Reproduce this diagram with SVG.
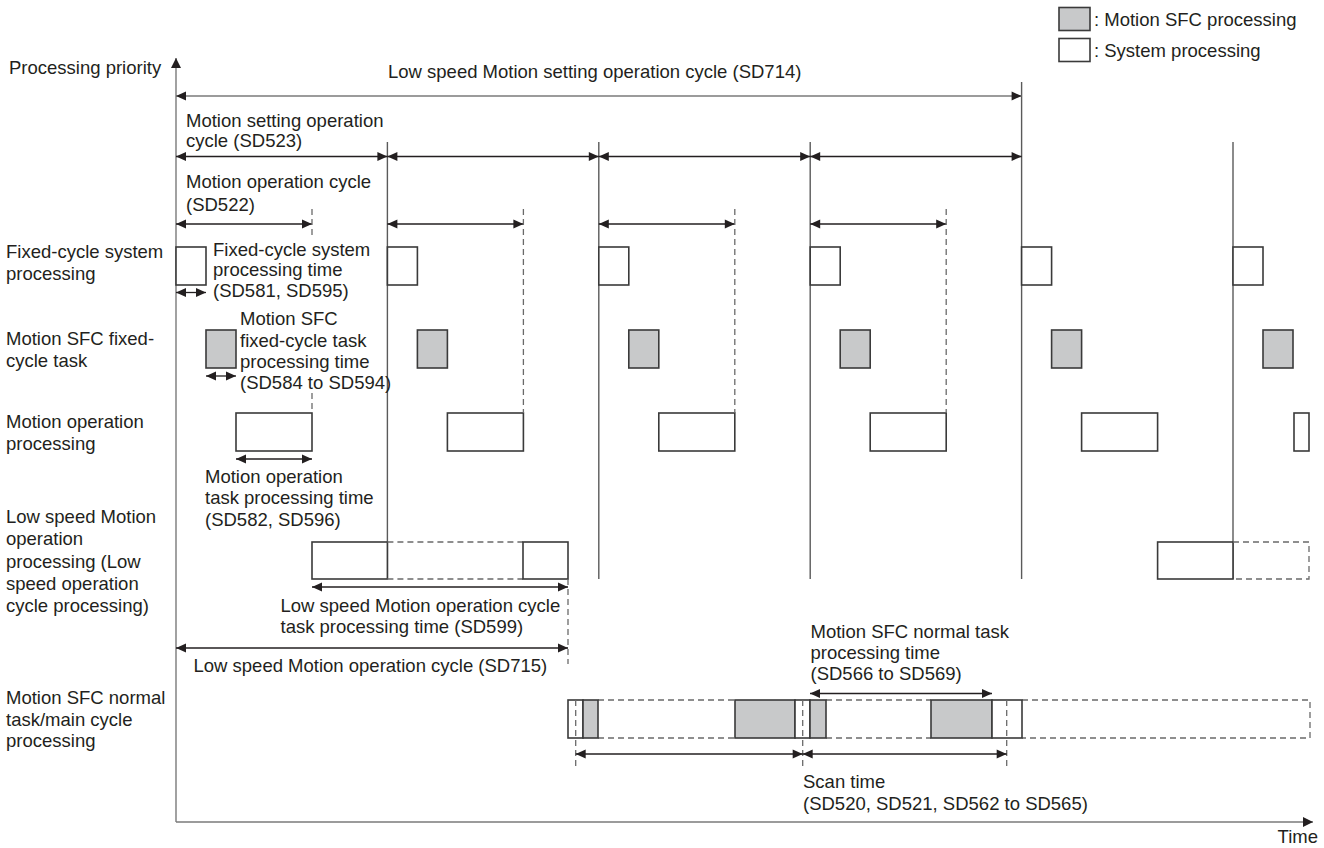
<svg xmlns="http://www.w3.org/2000/svg" width="1324" height="848" viewBox="0 0 1324 848">
<style>
text{font-family:"Liberation Sans",Arial,sans-serif;font-size:18.5px;fill:#231f20}
.vl{stroke:#7a7a7a;stroke-width:1.4;fill:none}
.cl{stroke:#5a5a5a;stroke-width:1.4;fill:none}
.ar{stroke:#231f20;stroke-width:1.3;fill:none;marker-start:url(#ah);marker-end:url(#ah)}
.arg{stroke:#7a7a7a;stroke-width:1.4;fill:none;marker-start:url(#ah);marker-end:url(#ah)}
.bx{fill:#fff;stroke:#3a3a3a;stroke-width:1.6}
.gb{fill:#c8c9ca;stroke:#3a3a3a;stroke-width:1.6}
.ds{stroke:#6a6a6a;stroke-width:1.3;stroke-dasharray:6 4;fill:none}
</style>
<defs>
<marker id="ah" markerUnits="userSpaceOnUse" markerWidth="11" markerHeight="10" viewBox="0 0 11 10" refX="10.5" refY="5" orient="auto-start-reverse">
<path d="M0.5,0.5 L10.5,5 L0.5,9.5 z" fill="#231f20"/>
</marker>
<marker id="ahe" markerUnits="userSpaceOnUse" markerWidth="11" markerHeight="11" viewBox="0 0 11 11" refX="10.5" refY="5.5" orient="auto">
<path d="M0.5,0.5 L10.5,5.5 L0.5,10.5 z" fill="#231f20"/>
</marker>
</defs>
<rect width="1324" height="848" fill="#fff"/>

<g id="legend">
<rect class="gb" x="1059" y="7.5" width="31" height="23"/>
<text x="1094" y="26">: Motion SFC processing</text>
<rect class="bx" x="1059" y="38.5" width="31" height="23"/>
<text x="1094" y="57">: System processing</text>
</g>

<g id="axes">
<line class="vl" x1="176" y1="822" x2="176" y2="58" marker-end="url(#ahe)"/>
<line class="vl" x1="176" y1="822" x2="1313" y2="822" marker-end="url(#ahe)"/>
<text x="9" y="74">Processing priority</text>
<text x="1318" y="843" text-anchor="end">Time</text>
</g>

<g id="row-labels">
<text x="6" y="258">Fixed-cycle system</text>
<text x="6" y="280">processing</text>
<text x="6" y="345">Motion SFC fixed-</text>
<text x="6" y="367">cycle task</text>
<text x="6" y="428">Motion operation</text>
<text x="6" y="450">processing</text>
<text x="6" y="523">Low speed Motion</text>
<text x="6" y="545">operation</text>
<text x="6" y="568">processing (Low</text>
<text x="6" y="590">speed operation</text>
<text x="6" y="612">cycle processing)</text>
<text x="6" y="704">Motion SFC normal</text>
<text x="6" y="726">task/main cycle</text>
<text x="6" y="747">processing</text>
</g>

<g id="cycle-lines">
<line class="cl" x1="387.4" y1="142" x2="387.4" y2="579"/>
<line class="cl" x1="598.8" y1="142" x2="598.8" y2="579"/>
<line class="cl" x1="810.2" y1="142" x2="810.2" y2="579"/>
<line class="cl" x1="1021.6" y1="82" x2="1021.6" y2="579"/>
<line class="cl" x1="1233" y1="142" x2="1233" y2="579"/>
</g>

<g id="col1">
<rect class="bx" x="176" y="247" width="30" height="38"/>
<rect class="gb" x="206" y="330" width="30" height="38"/>
<rect class="bx" x="236" y="413" width="76" height="38"/>
</g>
<g id="col2">
<rect class="bx" x="387.4" y="247" width="30" height="38"/>
<rect class="gb" x="417.4" y="330" width="30" height="38"/>
<rect class="bx" x="447.4" y="413" width="76" height="38"/>
</g>
<g id="col3">
<rect class="bx" x="598.8" y="247" width="30" height="38"/>
<rect class="gb" x="628.8" y="330" width="30" height="38"/>
<rect class="bx" x="658.8" y="413" width="76" height="38"/>
</g>
<g id="col4">
<rect class="bx" x="810.2" y="247" width="30" height="38"/>
<rect class="gb" x="840.2" y="330" width="30" height="38"/>
<rect class="bx" x="870.2" y="413" width="76" height="38"/>
</g>
<g id="col5">
<rect class="bx" x="1021.6" y="247" width="30" height="38"/>
<rect class="gb" x="1051.6" y="330" width="30" height="38"/>
<rect class="bx" x="1081.6" y="413" width="76" height="38"/>
</g>
<g id="col6">
<rect class="bx" x="1233" y="247" width="30" height="38"/>
<rect class="gb" x="1263" y="330" width="30" height="38"/>
<rect class="bx" x="1294" y="413" width="15" height="38"/>
</g>

<g id="low-speed">
<rect class="bx" x="312" y="542" width="75.4" height="37"/>
<line class="ds" x1="387.4" y1="542" x2="523" y2="542"/>
<line class="ds" x1="387.4" y1="579" x2="523" y2="579"/>
<rect class="bx" x="523" y="542" width="45" height="37"/>
<rect class="bx" x="1157.6" y="542" width="75.4" height="37"/>
<path class="ds" d="M1233,542 H1309 V579 H1233"/>
</g>

<g id="normal-task">
<path class="ds" d="M598,700 H735 M598,738 H735 M826,700 H931 M826,738 H931 M1022,700 H1310 V738 H1022"/>
<rect class="bx" x="568" y="700" width="15" height="38"/>
<rect class="gb" x="583" y="700" width="15" height="38"/>
<rect class="gb" x="735" y="700" width="60" height="38"/>
<rect class="bx" x="795" y="700" width="15" height="38"/>
<rect class="gb" x="810" y="700" width="16" height="38"/>
<rect class="gb" x="931" y="700" width="61" height="38"/>
<rect class="bx" x="992" y="700" width="30" height="38"/>
</g>

<g id="connectors">
<line class="arg" x1="176" y1="96" x2="1021.6" y2="96"/>
<line class="ar" x1="176" y1="156.5" x2="387.4" y2="156.5"/>
<line class="ar" x1="387.4" y1="156.5" x2="598.8" y2="156.5"/>
<line class="ar" x1="598.8" y1="156.5" x2="810.2" y2="156.5"/>
<line class="ar" x1="810.2" y1="156.5" x2="1021.6" y2="156.5"/>
<line class="ar" x1="176" y1="224" x2="312" y2="224"/>
<line class="ar" x1="387.4" y1="224" x2="523.4" y2="224"/>
<line class="ar" x1="598.8" y1="224" x2="734.8" y2="224"/>
<line class="ar" x1="810.2" y1="224" x2="946.2" y2="224"/>
<path class="ds" d="M312,209 V238 M312,393 V413"/>
<path class="ds" d="M523.4,209 V413 M734.8,209 V413 M946.2,209 V413"/>
<line class="ar" x1="176" y1="292.5" x2="206" y2="292.5"/>
<line class="ar" x1="206" y1="376" x2="236" y2="376"/>
<line class="ar" x1="236" y1="459" x2="312" y2="459"/>
<line class="ar" x1="312" y1="587" x2="568" y2="587"/>
<line class="ar" x1="176" y1="648" x2="568" y2="648"/>
<line class="ds" x1="568" y1="579" x2="568" y2="664"/>
<line class="ar" x1="810" y1="693.5" x2="992" y2="693.5"/>
<path class="ds" d="M575.7,700 V769 M802.7,700 V769 M1006.7,700 V769"/>
<line class="ar" x1="575.7" y1="754" x2="802.7" y2="754"/>
<line class="ar" x1="802.7" y1="754" x2="1006.7" y2="754"/>
</g>

<g id="annotations">
<text x="388" y="78">Low speed Motion setting operation cycle (SD714)</text>
<text x="186" y="127">Motion setting operation</text>
<text x="186" y="147">cycle (SD523)</text>
<text x="186" y="188">Motion operation cycle</text>
<text x="186" y="211">(SD522)</text>
<text x="213" y="256">Fixed-cycle system</text>
<text x="213" y="276">processing time</text>
<text x="213" y="297">(SD581, SD595)</text>
<text x="240" y="325">Motion SFC</text>
<text x="240" y="347">fixed-cycle task</text>
<text x="240" y="368">processing time</text>
<text x="240" y="389">(SD584 to SD594)</text>
<text x="205" y="483">Motion operation</text>
<text x="205" y="504">task processing time</text>
<text x="205" y="526">(SD582, SD596)</text>
<text x="280.5" y="612">Low speed Motion operation cycle</text>
<text x="280.5" y="633">task processing time (SD599)</text>
<text x="193.5" y="672">Low speed Motion operation cycle (SD715)</text>
<text x="810.5" y="638">Motion SFC normal task</text>
<text x="810.5" y="659">processing time</text>
<text x="810.5" y="680">(SD566 to SD569)</text>
<text x="803" y="788">Scan time</text>
<text x="803" y="810">(SD520, SD521, SD562 to SD565)</text>
</g>
</svg>
